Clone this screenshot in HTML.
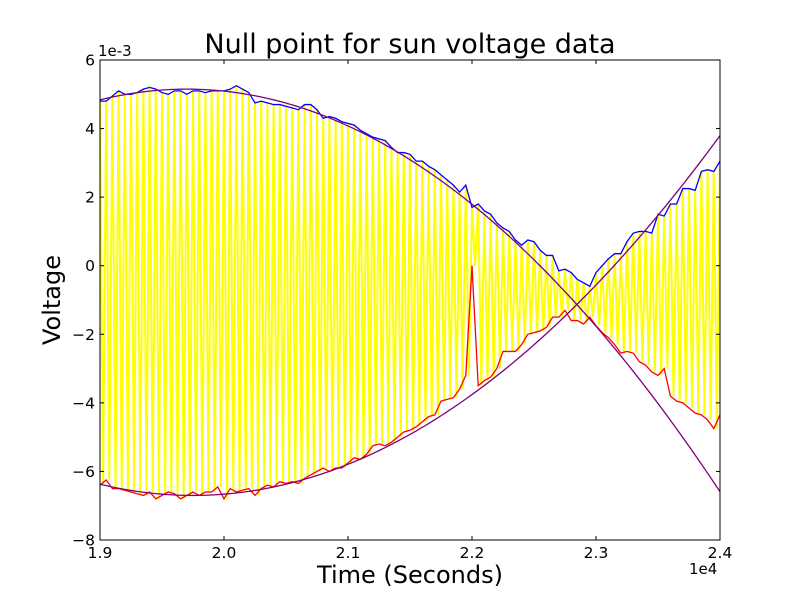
<!DOCTYPE html>
<html><head><meta charset="utf-8"><style>
body{margin:0;background:#fff;}
svg{display:block;font-family:"DejaVu Sans","Liberation Sans",sans-serif;}
</style></head><body>
<svg id="chart" width="800" height="600">
<rect width="800" height="600" fill="#fff"/>
<text x="410" y="53" font-size="27" text-anchor="middle">Null point for sun voltage data</text>
<clipPath id="clip"><rect x="100" y="60" width="620" height="480"/></clipPath>
<g id="plot" clip-path="url(#clip)"></g>
<g id="axes"></g>
<rect x="100" y="60" width="620" height="480" fill="none" stroke="#000" stroke-width="1"/>
<text x="98" y="56" font-size="15">1e-3</text>
<text x="689" y="574" font-size="15">1e4</text>
<text x="410" y="583" font-size="24" text-anchor="middle">Time (Seconds)</text>
<text x="60" y="300" font-size="24" text-anchor="middle" transform="rotate(-90 60 300)">Voltage</text>
</svg>
<script>
const tStart = 1.9, tStep = 0.005;
const upper = [4.8,4.8,4.95,5.1,5.0,5.0,5.05,5.15,5.2,5.15,5.05,5.0,5.1,5.1,5.0,5.1,5.1,5.05,5.1,5.1,5.1,5.15,5.25,5.15,5.05,4.75,4.8,4.75,4.7,4.7,4.65,4.6,4.55,4.7,4.7,4.55,4.3,4.35,4.3,4.2,4.15,4.1,3.95,3.85,3.75,3.7,3.65,3.45,3.3,3.3,3.25,3.05,3.05,2.9,2.8,2.65,2.5,2.35,2.15,2.35,1.7,1.8,1.6,1.5,1.25,1.1,1.0,0.75,0.6,0.75,0.7,0.45,0.3,0.3,-0.15,-0.1,-0.2,-0.4,-0.5,-0.6,-0.2,0.0,0.2,0.35,0.35,0.7,0.95,1.0,1.0,0.95,1.5,1.45,1.8,1.8,2.25,2.25,2.2,2.75,2.8,2.75,3.05];
const lower = [-6.4,-6.25,-6.5,-6.5,-6.55,-6.6,-6.65,-6.7,-6.6,-6.8,-6.7,-6.6,-6.65,-6.8,-6.7,-6.6,-6.7,-6.6,-6.6,-6.45,-6.8,-6.5,-6.6,-6.55,-6.5,-6.7,-6.5,-6.4,-6.45,-6.3,-6.35,-6.3,-6.35,-6.2,-6.1,-6.0,-5.9,-6.0,-5.9,-5.9,-5.75,-5.6,-5.65,-5.5,-5.25,-5.2,-5.25,-5.15,-5.0,-4.85,-4.8,-4.7,-4.55,-4.4,-4.35,-3.95,-3.9,-3.85,-3.6,-3.2,0.0,-3.5,-3.35,-3.25,-3.0,-2.5,-2.5,-2.5,-2.3,-2.0,-1.95,-1.9,-1.8,-1.5,-1.5,-1.3,-1.6,-1.6,-1.7,-1.5,-1.75,-1.95,-2.1,-2.3,-2.55,-2.5,-2.55,-2.8,-2.9,-3.1,-3.2,-3.0,-3.8,-3.95,-4.0,-4.15,-4.3,-4.35,-4.5,-4.75,-4.35];
const upperFit = {peak:5.15, center:1.97, curv:-63.5};
const lowerFit = {peak:-6.7, center:1.975, curv:58.1};
const xTicks = [1.9,2.0,2.1,2.2,2.3,2.4];
const xTickLabels = ["1.9","2.0","2.1","2.2","2.3","2.4"];
const yTicks = [-8,-6,-4,-2,0,2,4,6];
const yTickLabels = ["−8","−6","−4","−2","0","2","4","6"];

const X = t => 100 + (t - 1.9) / 0.5 * 620;
const Y = v => 540 - (v + 8) / 14 * 480;
const NS = "http://www.w3.org/2000/svg";
const plot = document.getElementById('plot'), axes = document.getElementById('axes');
function mk(tag, attrs, parent){const e=document.createElementNS(NS,tag);for(const k in attrs)e.setAttribute(k,attrs[k]);parent.appendChild(e);return e;}

let yp = [];
for (let i = 0; i < upper.length; i++) {
  const t = tStart + i*tStep;
  yp.push(X(t).toFixed(2)+','+Y(upper[i]).toFixed(2));
  if (i < upper.length-1) yp.push(X(t+tStep/2).toFixed(2)+','+Y(lower[i]).toFixed(2));
}
const ys = mk('polyline',{points:yp.join(' '),fill:'none',stroke:'#ffff00','stroke-width':2},plot);



function fitPts(f){let p=[];for(let t=1.9;t<=2.4001;t+=0.005){p.push(X(t).toFixed(2)+','+Y(f.peak+f.curv*(t-f.center)*(t-f.center)).toFixed(2));}return p.join(' ');}
const up = mk('polyline',{points:upper.map((v,i)=>X(tStart+i*tStep).toFixed(2)+','+Y(v).toFixed(2)).join(' '),fill:'none',stroke:'#0000ff','stroke-width':1.3},plot);


const lo = mk('polyline',{points:lower.map((v,i)=>X(tStart+i*tStep).toFixed(2)+','+Y(v).toFixed(2)).join(' '),fill:'none',stroke:'#ff0000','stroke-width':1.3},plot);


const uf = mk('polyline',{points:fitPts(upperFit),fill:'none',stroke:'#800080','stroke-width':1.3},plot);


const lf = mk('polyline',{points:fitPts(lowerFit),fill:'none',stroke:'#800080','stroke-width':1.3},plot);



xTicks.forEach((t,i)=>{
  const x=X(t);
  mk('line',{x1:x,x2:x,y1:540,y2:536,stroke:'#000'},axes);
  mk('line',{x1:x,x2:x,y1:60,y2:64,stroke:'#000'},axes);
  const tx=mk('text',{x:x,y:558,'font-size':15.5,'text-anchor':'middle'},axes);
  tx.textContent=xTickLabels[i];
  
  
});
yTicks.forEach((v,i)=>{
  const y=Y(v);
  mk('line',{x1:100,x2:104,y1:y,y2:y,stroke:'#000'},axes);
  mk('line',{x1:716,x2:720,y1:y,y2:y,stroke:'#000'},axes);
  const tx=mk('text',{x:95,y:y+5.5,'font-size':15.5,'text-anchor':'end'},axes);
  tx.textContent=yTickLabels[i];
  
  
});
</script>
</body></html>
